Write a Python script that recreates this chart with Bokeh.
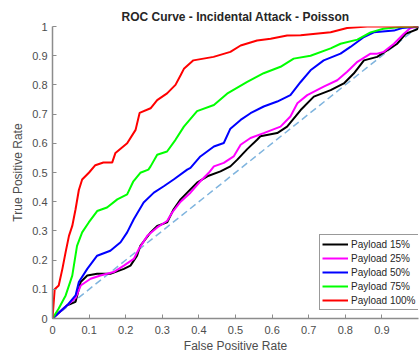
from bokeh.plotting import figure
from bokeh.models import Legend, LegendItem, FixedTicker, Range1d
from bokeh.embed import file_html
from bokeh.resources import INLINE

# ROC curves: false positive rate / true positive rate per payload level
fpr_15 = [0, 0.04, 0.063, 0.077, 0.095, 0.122, 0.158, 0.195, 0.213, 0.231, 0.240, 0.268,
          0.286, 0.313, 0.331, 0.350, 0.368, 0.395, 0.423, 0.459, 0.486, 0.505, 0.532,
          0.559, 0.568, 0.614, 0.641, 0.664, 0.678, 0.714, 0.760, 0.796, 0.823, 0.851,
          0.887, 0.914, 0.942, 0.965, 0.996, 1.0]
tpr_15 = [0, 0.045, 0.057, 0.125, 0.147, 0.153, 0.153, 0.170, 0.181, 0.215, 0.249, 0.295,
          0.317, 0.329, 0.374, 0.408, 0.431, 0.465, 0.487, 0.504, 0.521, 0.544, 0.580,
          0.612, 0.624, 0.635, 0.657, 0.692, 0.714, 0.760, 0.782, 0.805, 0.839, 0.884,
          0.896, 0.918, 0.941, 0.975, 0.990, 1.0]

fpr_25 = [0, 0.04, 0.063, 0.077, 0.104, 0.131, 0.167, 0.195, 0.222, 0.236, 0.259, 0.286,
          0.313, 0.327, 0.350, 0.377, 0.404, 0.427, 0.441, 0.468, 0.495, 0.514, 0.541,
          0.577, 0.623, 0.650, 0.669, 0.696, 0.741, 0.778, 0.805, 0.833, 0.869, 0.887,
          0.905, 0.933, 0.960, 0.978, 1.0]
tpr_25 = [0, 0.045, 0.070, 0.113, 0.136, 0.147, 0.159, 0.181, 0.204, 0.238, 0.283, 0.312,
          0.334, 0.363, 0.400, 0.431, 0.470, 0.499, 0.521, 0.533, 0.555, 0.595, 0.618,
          0.635, 0.657, 0.692, 0.737, 0.765, 0.794, 0.816, 0.845, 0.879, 0.907, 0.907,
          0.913, 0.941, 0.975, 0.995, 1.0]

fpr_50 = [0, 0.04, 0.063, 0.072, 0.095, 0.122, 0.158, 0.186, 0.204, 0.222, 0.249, 0.277,
          0.304, 0.331, 0.368, 0.377, 0.404, 0.441, 0.468, 0.486, 0.514, 0.541, 0.577,
          0.614, 0.650, 0.678, 0.705, 0.741, 0.787, 0.814, 0.851, 0.878, 0.933, 0.955,
          0.986, 1.0]
tpr_50 = [0, 0.045, 0.079, 0.125, 0.170, 0.215, 0.232, 0.261, 0.295, 0.340, 0.397, 0.431,
          0.453, 0.476, 0.510, 0.516, 0.555, 0.589, 0.601, 0.650, 0.680, 0.703, 0.726,
          0.743, 0.765, 0.810, 0.850, 0.884, 0.907, 0.930, 0.964, 0.980, 0.986, 0.995,
          0.998, 1.0]

fpr_75 = [0, 0.017, 0.036, 0.054, 0.067, 0.081, 0.099, 0.122, 0.149, 0.177, 0.204, 0.221,
          0.240, 0.262, 0.268, 0.286, 0.313, 0.336, 0.359, 0.395, 0.441, 0.477, 0.532,
          0.577, 0.623, 0.659, 0.705, 0.760, 0.787, 0.833, 0.869, 0.904, 0.951, 1.0]
tpr_75 = [0, 0.034, 0.079, 0.147, 0.249, 0.295, 0.329, 0.368, 0.380, 0.408, 0.425, 0.470,
          0.499, 0.510, 0.521, 0.561, 0.572, 0.612, 0.657, 0.710, 0.731, 0.770, 0.810,
          0.840, 0.862, 0.890, 0.900, 0.925, 0.941, 0.955, 0.980, 0.992, 0.998, 1.0]

fpr_100 = [0, 0.006, 0.017, 0.027, 0.036, 0.045, 0.054, 0.063, 0.072, 0.081, 0.100, 0.117,
           0.139, 0.163, 0.172, 0.204, 0.227, 0.238, 0.268, 0.286, 0.313, 0.336, 0.350,
           0.359, 0.385, 0.440, 0.486, 0.514, 0.559, 0.596, 0.641, 0.678, 0.760, 0.805,
           0.860, 1.0]
tpr_100 = [0, 0.100, 0.113, 0.170, 0.228, 0.283, 0.317, 0.374, 0.440, 0.476, 0.500, 0.525,
           0.534, 0.534, 0.567, 0.600, 0.646, 0.704, 0.720, 0.748, 0.771, 0.800, 0.833,
           0.855, 0.884, 0.896, 0.913, 0.935, 0.952, 0.958, 0.969, 0.970, 0.980, 0.995,
           1.0, 1.0]

series = [
    ("Payload 15%", fpr_15, tpr_15, "#000000"),
    ("Payload 25%", fpr_25, tpr_25, "#ff00ff"),
    ("Payload 50%", fpr_50, tpr_50, "#0000ff"),
    ("Payload 75%", fpr_75, tpr_75, "#00ff00"),
    ("Payload 100%", fpr_100, tpr_100, "#ff0000"),
]

chance_x = [0, 1]
chance_y = [0, 1]

x_ticks = [0, 0.1, 0.2, 0.3, 0.4, 0.5, 0.6, 0.7, 0.8, 0.9]
y_ticks = [0, 0.1, 0.2, 0.3, 0.4, 0.5, 0.6, 0.7, 0.8, 0.9, 1]

FONT = "Liberation Sans"
TEXT_GRAY = "#4d4d4d"
AXIS_GRAY = "#8c8c8c"

p = figure(width=419, height=355, output_backend="svg", toolbar_location=None,
           x_range=Range1d(0, 1), y_range=Range1d(0, 1),
           min_border_left=52, min_border_right=1, min_border_top=26,
           min_border_bottom=35, background_fill_color="white",
           border_fill_color="white", outline_line_color=None)

p.title.text = "ROC Curve - Incidental Attack - Poisson"
p.title.align = "center"
p.title.text_font = FONT
p.title.text_font_size = "12px"
p.title.text_font_style = "bold"
p.title.text_color = "#262626"
p.title.standoff = 5

p.xgrid.visible = False
p.ygrid.visible = False

# random-guess reference line
p.line(chance_x, chance_y, line_color="#7fb4de", line_width=1.5, line_dash="7 4")

items = []
for name, xs, ys, color in series:
    r = p.line(xs, ys, line_color=color, line_width=2)
    items.append(LegendItem(label=name, renderers=[r]))

for ax in (p.xaxis[0], p.yaxis[0]):
    ax.axis_line_color = AXIS_GRAY
    ax.axis_line_width = 1.5
    ax.major_tick_line_color = AXIS_GRAY
    ax.major_tick_in = 4
    ax.major_tick_out = 0
    ax.minor_tick_line_color = None
    ax.major_label_text_font = FONT
    ax.major_label_text_font_size = "11px"
    ax.major_label_text_color = TEXT_GRAY
    ax.axis_label_text_font = FONT
    ax.axis_label_text_font_size = "12px"
    ax.axis_label_text_font_style = "normal"
    ax.axis_label_text_color = TEXT_GRAY

p.xaxis.major_label_standoff = 7
p.xaxis.axis_label_standoff = 2
p.yaxis.major_label_standoff = 5
p.yaxis.axis_label_standoff = 4

p.xaxis.ticker = FixedTicker(ticks=x_ticks)
p.yaxis.ticker = FixedTicker(ticks=y_ticks)
p.xaxis.axis_label = "False Positive Rate"
p.yaxis.axis_label = "True Positive Rate"

legend = Legend(items=items, location=(267, 8), padding=2, spacing=0, margin=0,
                glyph_width=26, glyph_height=14, label_height=14, label_standoff=3,
                label_text_font=FONT, label_text_font_size="10px",
                label_text_color="#262626", border_line_color="#333333",
                border_line_width=1, background_fill_color="white",
                background_fill_alpha=1.0)
p.add_layout(legend, "center")

open("out.html", "w").write(file_html(p, INLINE))
